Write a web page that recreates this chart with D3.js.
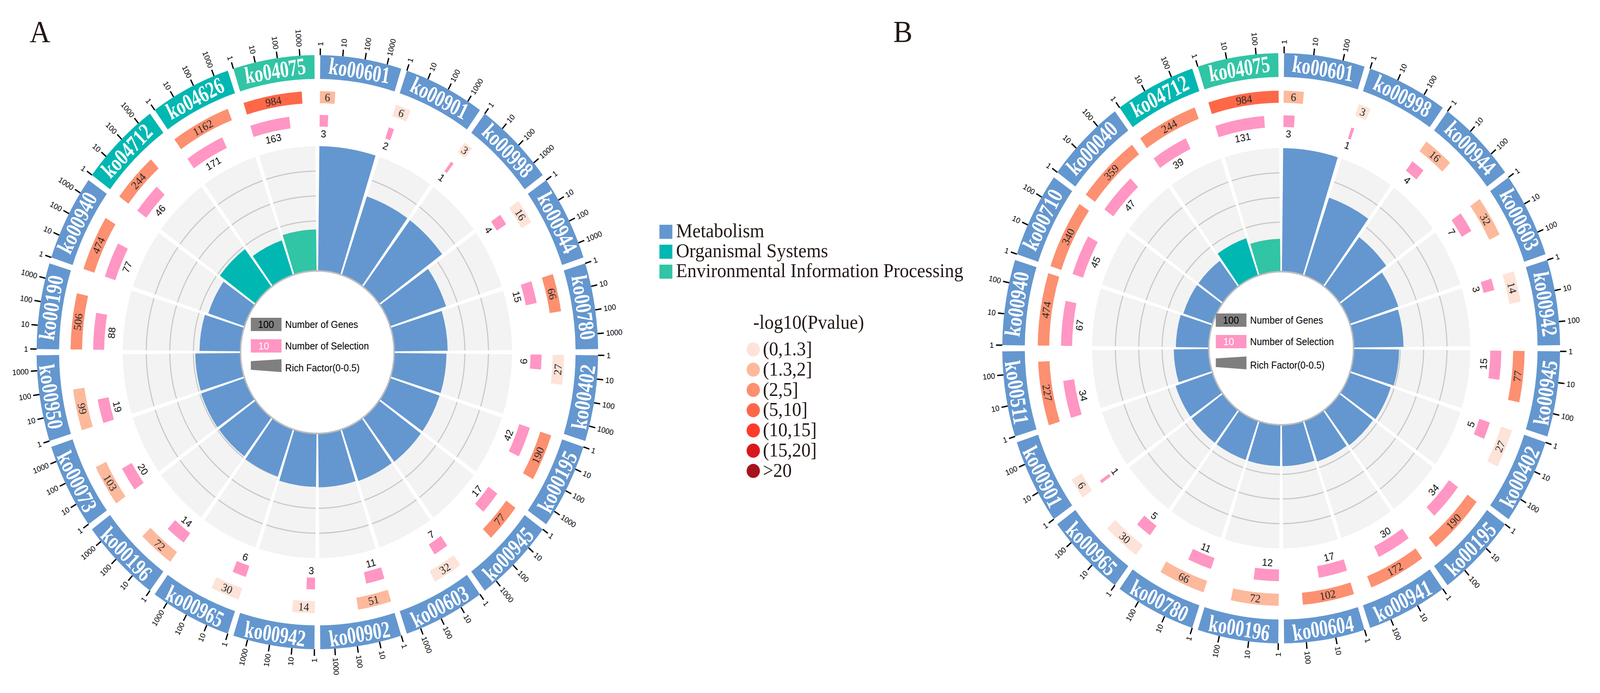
<!DOCTYPE html>
<html>
<head>
<meta charset="utf-8">
<script src="https://cdn.jsdelivr.net/npm/d3@7"></script>
<style>
  html, body { margin: 0; padding: 0; background: #ffffff; overflow: hidden; }
  #chart { width: 100vw; height: 100vh; }
  svg { display: block; width: 100vw; height: 100vh; }
</style>
</head>
<body>
<div id="chart"></div>
<script>
// ---- data ----
const categories = ['Metabolism', 'Organismal Systems', 'Environmental Information Processing'];
const categoryColors = ['#6497cf', '#00b7b1', '#31c4a5'];

const pBins = ['(0,1.3]', '(1.3,2]', '(2,5]', '(5,10]', '(10,15]', '(15,20]', '>20'];
const pThresholds = [1.3, 2, 5, 10, 15, 20];
const pColors = ['#fee3d8', '#fdb99c', '#fc9070', '#fe6848', '#fe3b2b', '#d9181c', '#a5141c'];

const tickValues = [1, 10, 100, 1000];

// panel A
const idsA = ['ko00601', 'ko00901', 'ko00998', 'ko00944', 'ko00780', 'ko00402', 'ko00195', 'ko00945', 'ko00603', 'ko00902',
  'ko00942', 'ko00965', 'ko00196', 'ko00073', 'ko00950', 'ko00190', 'ko00940', 'ko04712', 'ko04626', 'ko04075'];
const genesA = [6, 6, 3, 16, 66, 27, 190, 77, 32, 51, 14, 30, 72, 103, 99, 506, 474, 244, 1162, 984];
const selectionA = [3, 2, 1, 4, 15, 6, 42, 17, 7, 11, 3, 6, 14, 20, 19, 88, 77, 46, 171, 163];
const richA = [0.5, 0.333, 0.333, 0.25, 0.227, 0.222, 0.221, 0.221, 0.219, 0.216, 0.214, 0.2, 0.194, 0.194, 0.192, 0.174, 0.162, 0.189, 0.147, 0.166];
const logPA = [1.6, 0.9, 0.9, 0.9, 3.2, 0.9, 3.2, 3.2, 0.9, 1.6, 0.9, 0.9, 1.6, 1.6, 1.6, 3.2, 3.2, 3.2, 3.2, 6.5];
const catA = [0, 0, 0, 0, 0, 0, 0, 0, 0, 0, 0, 0, 0, 0, 0, 0, 0, 1, 1, 2];

// panel B
const idsB = ['ko00601', 'ko00998', 'ko00944', 'ko00603', 'ko00942', 'ko00945', 'ko00402', 'ko00195', 'ko00941', 'ko00604',
  'ko00196', 'ko00780', 'ko00965', 'ko00901', 'ko00511', 'ko00940', 'ko00710', 'ko00040', 'ko04712', 'ko04075'];
const genesB = [6, 3, 16, 32, 14, 77, 27, 190, 172, 102, 72, 66, 30, 6, 227, 474, 340, 359, 244, 984];
const selectionB = [3, 1, 4, 7, 3, 15, 5, 34, 30, 17, 12, 11, 5, 1, 34, 67, 45, 47, 39, 131];
const richB = [0.5, 0.333, 0.25, 0.219, 0.214, 0.195, 0.185, 0.179, 0.174, 0.167, 0.167, 0.167, 0.167, 0.167, 0.15, 0.141, 0.132, 0.131, 0.16, 0.133];
const logPB = [1.6, 0.9, 1.6, 1.6, 0.9, 3.2, 0.9, 3.2, 3.2, 3.2, 1.6, 1.6, 0.9, 0.9, 3.2, 3.2, 3.2, 3.2, 3.2, 6.5];
const catB = [0, 0, 0, 0, 0, 0, 0, 0, 0, 0, 0, 0, 0, 0, 0, 0, 0, 0, 1, 2];

// ---- page ----
const W = 4331, H = 1773;
const serif = "'Liberation Serif', 'Times New Roman', serif";
const sans = "'Liberation Sans', Arial, sans-serif";

// drawing lives in a fixed 4331x1773 user space, stretched onto the window
const svg = d3.select('#chart').append('svg')
  .attr('viewBox', `0 0 ${W} ${H}`)
  .attr('preserveAspectRatio', 'none');
svg.append('rect').attr('width', W).attr('height', H).attr('fill', '#ffffff');

const pColor = d3.scaleThreshold().domain(pThresholds).range(pColors);
const rad = a => a * Math.PI / 180;
const mod360 = a => ((a % 360) + 360) % 360;
// clockwise from 12 o'clock, same as d3.arc
const polar = (a, r) => [r * Math.sin(rad(a)), -r * Math.cos(rad(a))];
// text along the circle, flipped in the lower half so it stays readable
const tangentRot = a => { const m = mod360(a); return (m > 90 && m < 270) ? m + 180 : m; };

function drawPanel(cfg, ids, genes, sel, rich, logP, cat) {
  const g = svg.append('g').attr('transform', `translate(${cfg.cx},${cfg.cy})`);
  const gapFrac = cfg.gap / (360 / ids.length);
  const band = d3.scaleBand().domain(ids).range([0, 360])
    .paddingInner(gapFrac).paddingOuter(gapFrac / 2);
  const rScale = d3.scaleLinear().domain([0, 0.5]).range([cfg.rIn, cfg.rBg]);
  const arc = d3.arc();

  const rows = ids.map((id, i) => {
    const a0 = band(id), a1 = a0 + band.bandwidth();
    const lg = d3.scaleLog().domain([1, Math.pow(10, cfg.L)]).range([a0, a1]).clamp(true);
    return { id, i, a0, a1, lg, genes: genes[i], sel: sel[i], rich: rich[i], logP: logP[i], cat: cat[i] };
  });

  const sector = g.selectAll('g.sector').data(rows).enter().append('g').attr('class', 'sector');

  // grey background of the rich factor track
  sector.append('path')
    .attr('d', d => arc({ innerRadius: cfg.rIn, outerRadius: cfg.rBg, startAngle: rad(d.a0), endAngle: rad(d.a1) }))
    .attr('fill', '#f3f3f3');

  // grid arcs
  sector.selectAll('path.grid').data(d => [0.1, 0.2, 0.3, 0.4].map(v => ({ v, d }))).enter()
    .append('path').attr('class', 'grid')
    .attr('d', e => {
      const r = rScale(e.v);
      return arc({ innerRadius: r - 1.5, outerRadius: r + 1.5, startAngle: rad(e.d.a0), endAngle: rad(e.d.a1) });
    })
    .attr('fill', '#c9c9c9');

  // rich factor bars
  sector.append('path')
    .attr('d', d => arc({ innerRadius: cfg.rIn, outerRadius: rScale(d.rich), startAngle: rad(d.a0), endAngle: rad(d.a1) }))
    .attr('fill', d => categoryColors[d.cat]);

  // number of selection (pink)
  const pinkEnd = d => Math.max(d.lg(d.sel), d.a0 + 0.8);
  sector.append('path')
    .attr('d', d => arc({ innerRadius: cfg.rPinkIn, outerRadius: cfg.rPinkOut, startAngle: rad(d.a0), endAngle: rad(pinkEnd(d)) }))
    .attr('fill', '#ff96c3');
  sector.append('text')
    .attr('transform', d => {
      const a = (d.a0 + pinkEnd(d)) / 2;
      const [x, y] = polar(a, cfg.rPinkText);
      return `translate(${x},${y}) rotate(${tangentRot(a)})`;
    })
    .attr('text-anchor', 'middle').attr('dominant-baseline', 'central')
    .style('font-family', sans).style('font-size', '26px').attr('fill', '#111')
    .text(d => d.sel);

  // number of genes (coloured by -log10 p)
  sector.append('path')
    .attr('d', d => arc({ innerRadius: cfg.rRedIn, outerRadius: cfg.rRedOut, startAngle: rad(d.a0), endAngle: rad(d.lg(d.genes)) }))
    .attr('fill', d => pColor(d.logP));
  sector.append('text')
    .attr('transform', d => {
      const a = (d.a0 + d.lg(d.genes)) / 2;
      const [x, y] = polar(a, (cfg.rRedIn + cfg.rRedOut) / 2);
      return `translate(${x},${y}) rotate(${tangentRot(a)})`;
    })
    .attr('text-anchor', 'middle').attr('dominant-baseline', 'central')
    .style('font-family', serif).style('font-size', '29px').attr('fill', '#2a2a2a')
    .text(d => d.genes);

  // outer ring with pathway ids
  sector.append('path')
    .attr('d', d => arc({ innerRadius: cfg.rLabIn, outerRadius: cfg.rLabOut, startAngle: rad(d.a0), endAngle: rad(d.a1) }))
    .attr('fill', d => categoryColors[d.cat]);
  sector.append('text')
    .attr('transform', d => {
      const a = (d.a0 + d.a1) / 2;
      const [x, y] = polar(a, (cfg.rLabIn + cfg.rLabOut) / 2);
      return `translate(${x},${y}) rotate(${tangentRot(a)}) scale(0.78,1)`;
    })
    .attr('text-anchor', 'middle').attr('dominant-baseline', 'central')
    .style('font-family', serif).style('font-size', '60px').style('font-weight', 'bold')
    .attr('fill', '#ffffff')
    .text(d => d.id);

  // log axis ticks on the outside
  const ticks = sector.selectAll('g.tick')
    .data(d => tickValues.filter(v => Math.log10(v) <= cfg.L + 1e-9).map(v => ({ v, a: d.lg(v) })))
    .enter().append('g').attr('class', 'tick');
  ticks.append('line')
    .attr('x1', t => polar(t.a, cfg.rLabOut)[0]).attr('y1', t => polar(t.a, cfg.rLabOut)[1])
    .attr('x2', t => polar(t.a, cfg.rLabOut + 17)[0]).attr('y2', t => polar(t.a, cfg.rLabOut + 17)[1])
    .attr('stroke', '#000').attr('stroke-width', 3.5);
  ticks.append('text')
    .attr('transform', t => {
      const [x, y] = polar(t.a, cfg.rLabOut + 23);
      const m = mod360(t.a);
      return `translate(${x},${y}) rotate(${m < 180 ? m - 90 : m + 90})`;
    })
    .attr('text-anchor', t => (mod360(t.a) < 180 ? 'start' : 'end'))
    .attr('dominant-baseline', 'central')
    .style('font-family', sans).style('font-size', '20px').attr('fill', '#000')
    .text(t => t.v);

  // white centre
  g.append('circle').attr('r', cfg.rIn).attr('fill', '#ffffff')
    .attr('stroke', '#bdbdbd').attr('stroke-width', 4);

  // centre key
  const key = g.append('g').attr('transform', `translate(${cfg.keyX},0)`);
  key.append('rect').attr('x', 0).attr('y', cfg.keyY[0] - 17).attr('width', 83).attr('height', 34).attr('fill', '#7f7f7f');
  key.append('text').attr('x', 41).attr('y', cfg.keyY[0]).attr('text-anchor', 'middle').attr('dominant-baseline', 'central')
    .style('font-family', sans).style('font-size', '26px').attr('fill', '#000').text('100');
  key.append('rect').attr('x', 0).attr('y', cfg.keyY[1] - 17).attr('width', 83).attr('height', 34).attr('fill', '#ff96c3');
  key.append('text').attr('x', 35).attr('y', cfg.keyY[1]).attr('text-anchor', 'middle').attr('dominant-baseline', 'central')
    .style('font-family', sans).style('font-size', '26px').attr('fill', '#fff').text('10');
  const yc = cfg.keyY[2];
  key.append('polygon')
    .attr('points', [[0, yc - 11], [83, yc - 16], [83, yc + 17], [0, yc + 11]].map(p => p.join(',')).join(' '))
    .attr('fill', '#7f7f7f');
  const keyLabels = ['Number of Genes', 'Number of Selection', 'Rich Factor(0-0.5)'];
  key.selectAll('text.klab').data(keyLabels).enter().append('text').attr('class', 'klab')
    .attr('x', 93).attr('y', (d, i) => cfg.keyY[i] + (i === 2 ? 6 : 0))
    .attr('dominant-baseline', 'central')
    .style('font-family', sans).style('font-size', '25px').attr('fill', '#000')
    .text(d => d);

  // panel letter
  svg.append('text').attr('x', cfg.letterX).attr('y', 107)
    .style('font-family', serif).style('font-size', '78px').attr('fill', '#231815')
    .text(cfg.letter);
}

drawPanel({ cx: 859, cy: 901, gap: 1.2, L: 3.65, rIn: 208, rBg: 527, rPinkIn: 577, rPinkOut: 607, rPinkText: 559,
  rRedIn: 637, rRedOut: 668, rLabIn: 699, rLabOut: 760, keyX: -180, keyY: [-71, -16, 34], letter: 'A', letterX: 80 },
  idsA, genesA, selectionA, richA, logPA, catA);

drawPanel({ cx: 3468, cy: 891, gap: 1.2, L: 2.75, rIn: 196, rBg: 512, rPinkIn: 566, rPinkOut: 596, rPinkText: 549,
  rRedIn: 628, rRedOut: 659, rLabIn: 694, rLabOut: 755, keyX: -177, keyY: [-72, -17, 37], letter: 'B', letterX: 2418 },
  idsB, genesB, selectionB, richB, logPB, catB);

// ---- category legend ----
const catLegend = svg.append('g').attr('transform', 'translate(1785,575)');
catLegend.selectAll('rect').data(categories).enter().append('rect')
  .attr('x', 0).attr('y', (d, i) => i * 51).attr('width', 35).attr('height', 36)
  .attr('fill', (d, i) => categoryColors[i]);
catLegend.selectAll('text').data(categories).enter().append('text')
  .attr('x', 45).attr('y', (d, i) => i * 51 + 32)
  .style('font-family', serif).style('font-size', '50px').attr('fill', '#231815')
  .text(d => d);

// ---- p value legend ----
const pLegend = svg.append('g').attr('transform', 'translate(2039,0)');
pLegend.append('text').attr('x', 0).attr('y', 841)
  .style('font-family', serif).style('font-size', '50px').attr('fill', '#231815')
  .text('-log10(Pvalue)');
pLegend.selectAll('circle').data(pBins).enter().append('circle')
  .attr('cx', 0).attr('cy', (d, i) => 894 + i * 51.8).attr('r', 18)
  .attr('fill', (d, i) => pColors[i]);
pLegend.selectAll('text.bin').data(pBins).enter().append('text').attr('class', 'bin')
  .attr('x', 26).attr('y', (d, i) => 894 + i * 51.8 + 15)
  .style('font-family', serif).style('font-size', '50px').attr('fill', '#231815')
  .text(d => d);
</script>
</body>
</html>
